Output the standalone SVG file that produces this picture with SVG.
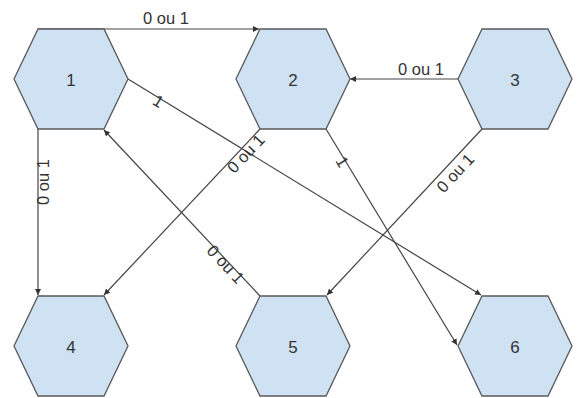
<svg xmlns="http://www.w3.org/2000/svg" width="582" height="398" viewBox="0 0 582 398">
<style>
.hex{fill:#cfe2f3;stroke:#595959;stroke-width:1.3}
.num{font-family:"Liberation Sans",Arial,sans-serif;font-size:17px;fill:#333;text-anchor:middle;dominant-baseline:central}
.edge{fill:none;stroke:#444;stroke-width:1.2;marker-end:url(#arr)}
.lbl{font-family:"Liberation Sans",Arial,sans-serif;font-size:16.5px;fill:#333;text-anchor:middle}
</style>
<defs>
<marker id="arr" markerUnits="userSpaceOnUse" markerWidth="7" markerHeight="6" refX="6" refY="3" orient="auto">
<path d="M0,0 L6,3 L0,6 z" fill="#333"/>
</marker>
</defs>
<g id="connectors">
<path class="edge" d="M38,29 L259,29"/>
<path class="edge" d="M458,79 L350,79"/>
<path class="edge" d="M38,129 L38,295"/>
<path class="edge" d="M260,129 L104,295"/>
<path class="edge" d="M260,296 L104,130"/>
<path class="edge" d="M128,79 L481,295"/>
<path class="edge" d="M326,129 L457,345"/>
<path class="edge" d="M482,129 L327,295"/>
<text class="lbl" x="166" y="24">0 ou 1</text>
<text class="lbl" x="421" y="75">0 ou 1</text>
<text class="lbl" transform="translate(38,182) rotate(-90)" y="11">0 ou 1</text>
<text class="lbl" transform="translate(242,150) rotate(-46.8)" y="11">0 ou 1</text>
<text class="lbl" transform="translate(228,262) rotate(46.8)" y="9">0 ou 1</text>
<text class="lbl" transform="translate(450,168) rotate(-47)" y="13">0 ou 1</text>
<text class="lbl" transform="translate(160,98.5) rotate(31.4)" y="9">1</text>
<text class="lbl" transform="translate(345,160) rotate(58.7)" y="9">1</text>
</g>
<g id="n1"><polygon class="hex" points="38,29 104,29 128,79 104,129 38,129 14,79"/><text class="num" x="71" y="80">1</text></g>
<g id="n2"><polygon class="hex" points="260,29 326,29 350,79 326,129 260,129 236,79"/><text class="num" x="293" y="80">2</text></g>
<g id="n3"><polygon class="hex" points="482,29 548,29 572,79 548,129 482,129 458,79"/><text class="num" x="515" y="80">3</text></g>
<g id="n4"><polygon class="hex" points="38,296 104,296 128,346 104,396 38,396 14,346"/><text class="num" x="71" y="347">4</text></g>
<g id="n5"><polygon class="hex" points="260,296 326,296 350,346 326,396 260,396 236,346"/><text class="num" x="293" y="347">5</text></g>
<g id="n6"><polygon class="hex" points="482,296 548,296 572,346 548,396 482,396 458,346"/><text class="num" x="515" y="347">6</text></g>
</svg>
